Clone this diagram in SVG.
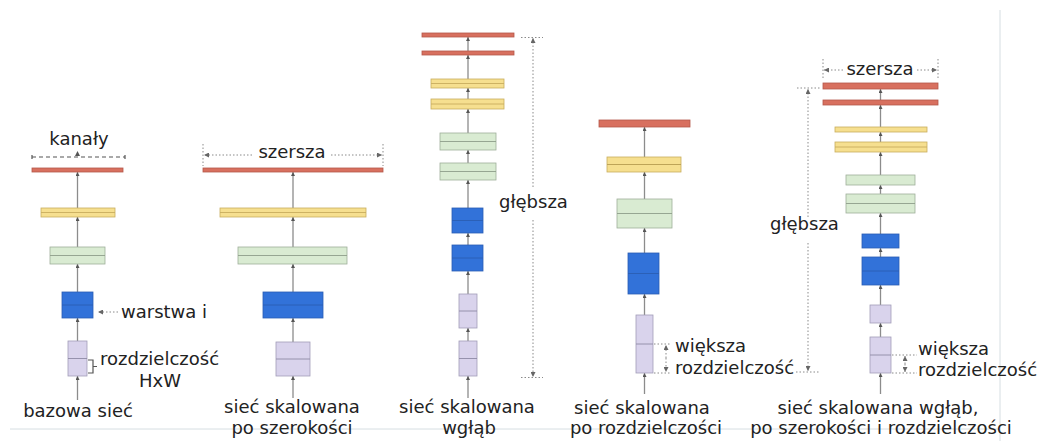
<svg xmlns="http://www.w3.org/2000/svg" width="1045" height="441" viewBox="0 0 1045 441">
<defs>
<marker id="ah" viewBox="0 0 6 6" refX="6" refY="3" markerWidth="4" markerHeight="4" markerUnits="userSpaceOnUse" orient="auto"><path d="M0,0 L6,3 L0,6 Z" fill="#555"/></marker>
<marker id="dh" viewBox="0 0 6 6" refX="6" refY="3" markerWidth="5" markerHeight="5" markerUnits="userSpaceOnUse" orient="auto"><path d="M0,0 L6,3 L0,6 Z" fill="#666"/></marker>
</defs>
<style>
text{font-family:"DejaVu Sans","Liberation Sans",sans-serif;font-size:18px;fill:#222}
.c{text-anchor:middle}
.ax{stroke:#8c8c8c;stroke-width:1.3;fill:none;marker-end:url(#ah)}
.dot{stroke:#8a8a8a;stroke-width:1;stroke-dasharray:1.5 2;fill:none}
.dash{stroke:#555;stroke-width:1.2;stroke-dasharray:4 3;fill:none}
.r{fill:#d8705f;stroke:#b5574a;stroke-width:0.8}
.y{fill:#f6df8f;stroke:#c8ad5e;stroke-width:0.8}
.g{fill:#d9ebd2;stroke:#9fae99;stroke-width:0.8}
.b{fill:#3272d9;stroke:#2a5db3;stroke-width:0.8}
.p{fill:#d9d3ec;stroke:#a29db8;stroke-width:0.8}
.m{stroke-width:0.9;fill:none}
.frame{stroke:#d6dee2;stroke-width:1;fill:none}
</style>
<g id="frame">
<line class="frame" x1="10" y1="429" x2="1000" y2="429"/>
<line class="frame" x1="1000" y1="10" x2="1000" y2="441"/>
</g>
<g id="connectors">
<!-- col1 -->
<line class="ax" x1="77.5" y1="400" x2="77.5" y2="376"/>
<line class="ax" x1="77.5" y1="341" x2="77.5" y2="318"/>
<line class="ax" x1="77.5" y1="292" x2="77.5" y2="264"/>
<line class="ax" x1="77.5" y1="247" x2="77.5" y2="217"/>
<line class="ax" x1="77.5" y1="208" x2="77.5" y2="172"/>
<!-- col2 -->
<line class="ax" x1="293" y1="398" x2="293" y2="376"/>
<line class="ax" x1="293" y1="342" x2="293" y2="318"/>
<line class="ax" x1="293" y1="292" x2="293" y2="264"/>
<line class="ax" x1="293" y1="247" x2="293" y2="217"/>
<line class="ax" x1="293" y1="208" x2="293" y2="172"/>
<!-- col3 -->
<line class="ax" x1="468" y1="398" x2="468" y2="376"/>
<line class="ax" x1="468" y1="341" x2="468" y2="328"/>
<line class="ax" x1="468" y1="294" x2="468" y2="271"/>
<line class="ax" x1="468" y1="245" x2="468" y2="233"/>
<line class="ax" x1="468" y1="208" x2="468" y2="180"/>
<line class="ax" x1="468" y1="163" x2="468" y2="150"/>
<line class="ax" x1="468" y1="133" x2="468" y2="109"/>
<line class="ax" x1="468" y1="99" x2="468" y2="88"/>
<line class="ax" x1="468" y1="79" x2="468" y2="55"/>
<line class="ax" x1="468" y1="51" x2="468" y2="37"/>
<!-- col4 -->
<line class="ax" x1="644.5" y1="394" x2="644.5" y2="373"/>
<line class="ax" x1="644.5" y1="315" x2="644.5" y2="294"/>
<line class="ax" x1="644.5" y1="253" x2="644.5" y2="228"/>
<line class="ax" x1="644.5" y1="199" x2="644.5" y2="172"/>
<line class="ax" x1="644.5" y1="157" x2="644.5" y2="127"/>
<!-- col5 -->
<line class="ax" x1="880.5" y1="394" x2="880.5" y2="373"/>
<line class="ax" x1="880.5" y1="337" x2="880.5" y2="323"/>
<line class="ax" x1="880.5" y1="305" x2="880.5" y2="285"/>
<line class="ax" x1="880.5" y1="257" x2="880.5" y2="248"/>
<line class="ax" x1="880.5" y1="234" x2="880.5" y2="213"/>
<line class="ax" x1="880.5" y1="194" x2="880.5" y2="185"/>
<line class="ax" x1="880.5" y1="175" x2="880.5" y2="152"/>
<line class="ax" x1="880.5" y1="142" x2="880.5" y2="132"/>
<line class="ax" x1="880.5" y1="127" x2="880.5" y2="105"/>
<line class="ax" x1="880.5" y1="100" x2="880.5" y2="89"/>
</g>
<g id="col1">
<rect class="r" x="32" y="168" width="91" height="4"/>
<rect class="y" x="41" y="208" width="74" height="9"/><line class="m" stroke="#c8ad5e" x1="41" y1="212.5" x2="115" y2="212.5"/>
<rect class="g" x="50" y="247" width="55" height="17"/><line class="m" stroke="#8f9e8a" x1="50" y1="255.5" x2="105" y2="255.5"/>
<rect class="b" x="62" y="292" width="31" height="26"/><line class="m" stroke="#2a5db3" x1="62" y1="305" x2="93" y2="305"/>
<rect class="p" x="68" y="341" width="19" height="35"/><line class="m" stroke="#8f8aa6" x1="68" y1="358.5" x2="87" y2="358.5"/>
<path class="dash" d="M32,157 H125 M32,155 V162 M125,155 V162"/>
<path d="M77.5,151 L80,156 L75,156 Z" fill="#555"/>
<text class="c" x="79" y="145">kanały</text>
<line class="dot" x1="118" y1="312" x2="98" y2="312" style="marker-end:url(#dh)"/>
<text x="121" y="318">warstwa i</text>
<path d="M88,360 H93 V373 H88 M93,366.5 H97" stroke="#555" stroke-width="1.2" fill="none"/>
<text x="100" y="365">rozdzielczość</text>
<text class="c" x="160" y="387">HxW</text>
<text class="c" x="78" y="417">bazowa sieć</text>
</g>
<g id="col2">
<rect class="r" x="203" y="168" width="180" height="4"/>
<rect class="y" x="220" y="208" width="146" height="9"/><line class="m" stroke="#c8ad5e" x1="220" y1="212.5" x2="366" y2="212.5"/>
<rect class="g" x="238" y="247" width="109" height="17"/><line class="m" stroke="#8f9e8a" x1="238" y1="255.5" x2="347" y2="255.5"/>
<rect class="b" x="263" y="292" width="60" height="26"/><line class="m" stroke="#2a5db3" x1="263" y1="305" x2="323" y2="305"/>
<rect class="p" x="276" y="342" width="34" height="34"/><line class="m" stroke="#8f8aa6" x1="276" y1="359" x2="310" y2="359"/>
<path class="dot" d="M203,144 V166 M383,144 V166"/>
<line class="dot" x1="252" y1="155" x2="204" y2="155" style="marker-end:url(#dh)"/>
<line class="dot" x1="331" y1="155" x2="382" y2="155" style="marker-end:url(#dh)"/>
<text class="c" x="292" y="158">szersza</text>
<text class="c" x="292" y="413">sieć skalowana</text>
<text class="c" x="292" y="434">po szerokości</text>
</g>
<g id="col3">
<rect class="r" x="422" y="33" width="92" height="4"/>
<rect class="r" x="422" y="51" width="92" height="4"/>
<rect class="y" x="431" y="79" width="73" height="9"/><line class="m" stroke="#c8ad5e" x1="431" y1="83.5" x2="504" y2="83.5"/>
<rect class="y" x="431" y="99" width="73" height="10"/><line class="m" stroke="#c8ad5e" x1="431" y1="104" x2="504" y2="104"/>
<rect class="g" x="440" y="133" width="56" height="17"/><line class="m" stroke="#8f9e8a" x1="440" y1="141.5" x2="496" y2="141.5"/>
<rect class="g" x="440" y="163" width="56" height="17"/><line class="m" stroke="#8f9e8a" x1="440" y1="171.5" x2="496" y2="171.5"/>
<rect class="b" x="452" y="208" width="31" height="25"/><line class="m" stroke="#2a5db3" x1="452" y1="220.5" x2="483" y2="220.5"/>
<rect class="b" x="452" y="245" width="31" height="26"/><line class="m" stroke="#2a5db3" x1="452" y1="258" x2="483" y2="258"/>
<rect class="p" x="459" y="294" width="18" height="34"/><line class="m" stroke="#8f8aa6" x1="459" y1="311" x2="477" y2="311"/>
<rect class="p" x="459" y="341" width="18" height="35"/><line class="m" stroke="#8f8aa6" x1="459" y1="358.5" x2="477" y2="358.5"/>
<path class="dot" d="M521,37.5 H543 M521,377.5 H543"/>
<line class="dot" x1="533" y1="187" x2="533" y2="38" style="marker-end:url(#dh)"/>
<line class="dot" x1="533" y1="220" x2="533" y2="377" style="marker-end:url(#dh)"/>
<text x="499" y="208">głębsza</text>
<text class="c" x="467" y="413">sieć skalowana</text>
<text class="c" x="469" y="434">wgłąb</text>
</g>
<g id="col4">
<rect class="r" x="599" y="120" width="91" height="7"/>
<rect class="y" x="607" y="157" width="74" height="15"/><line class="m" stroke="#b89d50" x1="607" y1="164.5" x2="681" y2="164.5"/>
<rect class="g" x="617" y="199" width="55" height="29"/><line class="m" stroke="#8f9e8a" x1="617" y1="213.5" x2="672" y2="213.5"/>
<rect class="b" x="628" y="253" width="31" height="41"/><line class="m" stroke="#2a5db3" x1="628" y1="273.5" x2="659" y2="273.5"/>
<rect class="p" x="636" y="315" width="17" height="58"/><line class="m" stroke="#8f8aa6" x1="636" y1="344" x2="653" y2="344"/>
<path class="dot" d="M654,344 H670 M654,373 H670"/>
<line class="dot" x1="666" y1="358" x2="666" y2="345" style="marker-end:url(#dh)"/>
<line class="dot" x1="666" y1="358" x2="666" y2="372" style="marker-end:url(#dh)"/>
<text x="675" y="352">większa</text>
<text x="675" y="374">rozdzielczość</text>
<text class="c" x="642" y="414">sieć skalowana</text>
<text class="c" x="646" y="434">po rozdzielczości</text>
</g>
<g id="col5">
<rect class="r" x="823" y="83" width="115" height="6"/>
<rect class="r" x="823" y="100" width="115" height="5"/>
<rect class="y" x="835" y="127" width="92" height="5"/>
<rect class="y" x="835" y="142" width="92" height="10"/><line class="m" stroke="#c8ad5e" x1="835" y1="147" x2="927" y2="147"/>
<rect class="g" x="846" y="175" width="69" height="10"/>
<rect class="g" x="846" y="194" width="69" height="19"/><line class="m" stroke="#8f9e8a" x1="846" y1="203.5" x2="915" y2="203.5"/>
<rect class="b" x="862" y="234" width="37" height="14"/>
<rect class="b" x="862" y="257" width="37" height="28"/><line class="m" stroke="#2a5db3" x1="862" y1="271" x2="899" y2="271"/>
<rect class="p" x="870" y="305" width="21" height="18"/>
<rect class="p" x="870" y="337" width="21" height="36"/><line class="m" stroke="#8f8aa6" x1="870" y1="355" x2="891" y2="355"/>
<path class="dot" d="M823,59 V80 M938,59 V80"/>
<line class="dot" x1="843" y1="70" x2="824" y2="70" style="marker-end:url(#dh)"/>
<line class="dot" x1="917" y1="70" x2="937" y2="70" style="marker-end:url(#dh)"/>
<text class="c" x="880" y="75">szersza</text>
<path class="dot" d="M797,88 H820 M796,372 H820"/>
<line class="dot" x1="808" y1="217" x2="808" y2="89" style="marker-end:url(#dh)"/>
<line class="dot" x1="808" y1="243" x2="808" y2="371" style="marker-end:url(#dh)"/>
<text x="770" y="230">głębsza</text>
<path class="dot" d="M892,355 H917 M892,373 H917"/>
<line class="dot" x1="905" y1="364" x2="905" y2="356" style="marker-end:url(#dh)"/>
<line class="dot" x1="905" y1="364" x2="905" y2="372" style="marker-end:url(#dh)"/>
<text x="918" y="355">większa</text>
<text x="918" y="376">rozdzielczość</text>
<text class="c" x="878" y="414">sieć skalowana wgłąb,</text>
<text class="c" x="881" y="434">po szerokości i rozdzielczości</text>
</g>
</svg>
